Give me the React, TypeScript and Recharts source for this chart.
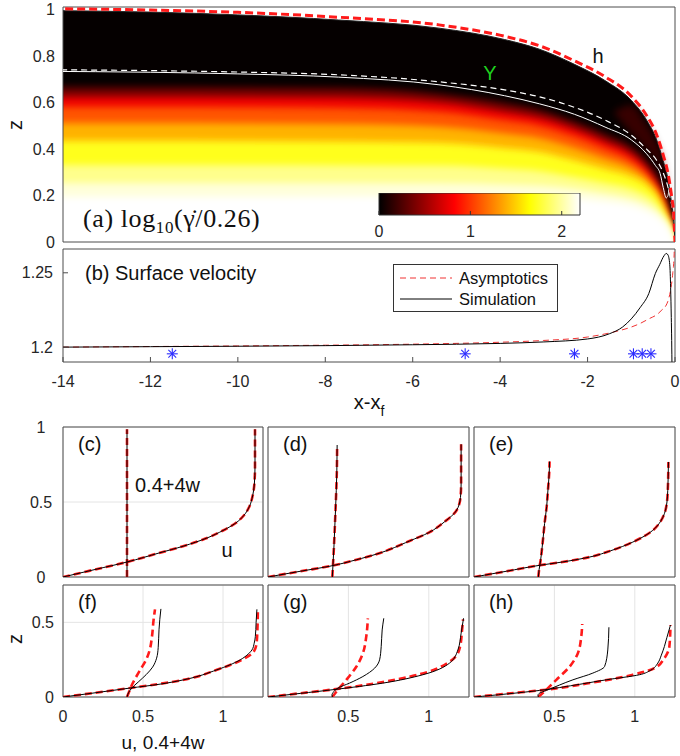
import React from 'react';
import {
  ComposedChart,
  ScatterChart,
  Scatter,
  Area,
  Line,
  XAxis,
  YAxis,
  CartesianGrid,
  ReferenceArea,
} from 'recharts';

const SANS = '"Liberation Sans", Arial, Helvetica, sans-serif';
const SERIF = '"Liberation Serif", "Times New Roman", serif';
const INK = '#262626';
const FRAME = '#4d4d4d';
const RED = '#ff1a1a';
const BLUE = '#2b2bff';

// ---------- (a) shear-rate map, sampled along x - x_f ----------
const MAP_X = [-14.5, -12, -10, -7.7, -5.4, -3.9, -3.1, -2.3, -1.6, -1.0, -0.65, -0.42, -0.27, -0.15, -0.08, -0.03, 0];
const SURFACE_SIM = [0.997, 0.99, 0.978, 0.956, 0.921, 0.872, 0.83, 0.765, 0.695, 0.61, 0.525, 0.44, 0.35, 0.26, 0.17, 0.09, 0];
const SURFACE_ASYM = [1.005, 0.999, 0.989, 0.968, 0.935, 0.886, 0.845, 0.78, 0.712, 0.628, 0.545, 0.462, 0.375, 0.285, 0.2, 0.12, 0];
const YIELD_ASYM = [0.742, 0.738, 0.732, 0.72, 0.69, 0.655, 0.625, 0.58, 0.525, 0.46, 0.4, 0.352, 0.298, 0.228, 0.163, 0.085, null];

// simulated yield surface, with the little kink near the tip
const YIELD_SIM_X = [-14.5, -12, -10, -7.7, -5.4, -3.9, -3.1, -2.3, -1.6, -1.0, -0.65, -0.45, -0.34, -0.27, -0.2, -0.16, -0.13, -0.1, -0.08, -0.06];
const YIELD_SIM_Z = [0.735, 0.731, 0.724, 0.71, 0.677, 0.63, 0.595, 0.55, 0.495, 0.44, 0.38, 0.33, 0.295, 0.235, 0.19, 0.2, 0.235, 0.23, 0.2, 0.165];

// iso-lines of log10(rate/0.26) on MAP_X (level in the name)
const ISO_000 = [0.667, 0.667, 0.666, 0.664, 0.64, 0.6, 0.57, 0.52, 0.465, 0.41, 0.35, 0.29, 0.225, 0.155, 0.095, 0.04, 0];
const ISO_060 = [0.627, 0.627, 0.626, 0.623, 0.604, 0.563, 0.537, 0.489, 0.434, 0.379, 0.317, 0.253, 0.192, 0.115, 0.066, 0.025, 0];
const ISO_095 = [0.582, 0.582, 0.581, 0.578, 0.562, 0.525, 0.502, 0.456, 0.404, 0.352, 0.295, 0.233, 0.173, 0.1, 0.058, 0.022, 0];
const ISO_125 = [0.512, 0.512, 0.511, 0.509, 0.497, 0.468, 0.448, 0.406, 0.361, 0.319, 0.271, 0.217, 0.16, 0.095, 0.055, 0.02, 0];
const ISO_155 = [0.436, 0.436, 0.435, 0.433, 0.427, 0.405, 0.389, 0.352, 0.315, 0.282, 0.247, 0.2, 0.145, 0.09, 0.05, 0.018, 0];
const ISO_185 = [0.332, 0.332, 0.332, 0.331, 0.329, 0.316, 0.306, 0.28, 0.255, 0.23, 0.2, 0.165, 0.122, 0.08, 0.046, 0.016, 0];
const ISO_205 = [0.254, 0.254, 0.254, 0.254, 0.254, 0.249, 0.244, 0.23, 0.21, 0.188, 0.163, 0.135, 0.102, 0.07, 0.04, 0.014, 0];
const ISO_220 = [0.195, 0.195, 0.195, 0.196, 0.197, 0.197, 0.196, 0.19, 0.176, 0.158, 0.135, 0.112, 0.088, 0.06, 0.034, 0.012, 0];
const ISO_LINES = [ISO_000, ISO_060, ISO_095, ISO_125, ISO_155, ISO_185, ISO_205, ISO_220];
// band colour just below each iso-line (matlab "hot" over 0..2.2)
const ISO_FILLS = ['#6e0000', '#f00000', '#ff5500', '#ffb200', '#ffff1a', '#ffff8c', '#ffffda', '#ffffff'];

// dark-red glow between the asymptotic yield line and the surface near the tip
const GLOW_X = [-1.4, -1.0, -0.7, -0.45, -0.28, -0.16, -0.1];
const GLOW_LOW = [0.56, 0.47, 0.41, 0.355, 0.3, 0.235, 0.19];
const GLOW_HIGH = [0.56, 0.59, 0.52, 0.44, 0.36, 0.26, 0.19];

const COLORBAR_RANGE = [0, 2.2];
const COLORBAR_TICKS = [0, 1, 2];

// ---------- (b) surface velocity ----------
const USURF_SIM_X = [-14, -12, -10, -8, -6, -4, -3, -2, -1.5, -1.2, -1.0, -0.8, -0.6, -0.45, -0.35, -0.25, -0.2, -0.16, -0.12, -0.1, -0.085, -0.076, -0.068];
const USURF_SIM = [1.2, 1.2003, 1.2006, 1.201, 1.2016, 1.2025, 1.2035, 1.2055, 1.209, 1.2135, 1.219, 1.2265, 1.236, 1.2495, 1.2555, 1.2615, 1.263, 1.262, 1.2555, 1.24, 1.22, 1.2045, 1.185];
const USURF_ASYM_X = [-14, -12, -10, -8, -6, -4, -3, -2, -1.4, -1.0, -0.8, -0.6, -0.4, -0.3, -0.2, -0.15, -0.1, -0.05, -0.02, 0];
const USURF_ASYM = [1.2, 1.2004, 1.2008, 1.2013, 1.202, 1.2033, 1.2045, 1.2068, 1.2102, 1.2135, 1.2159, 1.219, 1.2222, 1.225, 1.2283, 1.232, 1.2385, 1.25, 1.262, 1.32];
const PROFILE_X = [-11.5, -4.8, -2.3, -0.95, -0.75, -0.55];
const PROFILE_MARK = [1.1955, 1.1955, 1.1955, 1.1955, 1.1955, 1.1955];

// ---------- (c)-(h) velocity profiles: u(z) and 0.4+4w(z) ----------
const C_U = [0, 0.2, 0.4, 0.6, 0.75, 0.9, 1.0, 1.08, 1.13, 1.165, 1.185, 1.196, 1.2, 1.2];
const C_U_Z = [0, 0.05, 0.1, 0.16, 0.205, 0.26, 0.31, 0.36, 0.41, 0.47, 0.54, 0.62, 0.735, 0.985];
const C_W = [0.4, 0.4];
const C_W_Z = [0, 0.985];

const D_U = [0, 0.2, 0.394, 0.55, 0.673, 0.88, 1.0, 1.1, 1.17, 1.197, 1.201, 1.201];
const D_U_Z = [0, 0.038, 0.074, 0.115, 0.152, 0.24, 0.296, 0.37, 0.44, 0.53, 0.62, 0.885];
const D_W = [0.4, 0.41, 0.42, 0.428, 0.43];
const D_W_Z = [0, 0.2, 0.45, 0.7, 0.88];

const E_U = [0, 0.2, 0.408, 0.55, 0.719, 0.85, 0.988, 1.112, 1.16, 1.184, 1.2, 1.205, 1.209];
const E_U_Z = [0, 0.038, 0.078, 0.1, 0.133, 0.175, 0.233, 0.311, 0.37, 0.422, 0.5, 0.578, 0.767];
const E_W = [0.4, 0.405, 0.414, 0.427, 0.439, 0.452, 0.46, 0.468, 0.47];
const E_W_Z = [0, 0.05, 0.11, 0.23, 0.357, 0.47, 0.58, 0.7, 0.77];

const F_U_SIM = [0, 0.2, 0.42, 0.6, 0.754, 0.962, 1.108, 1.16, 1.181, 1.195, 1.202, 1.207, 1.212];
const F_U_SIM_Z = [0, 0.028, 0.06, 0.085, 0.115, 0.182, 0.249, 0.29, 0.315, 0.36, 0.404, 0.5, 0.587];
const F_U_ASYM = [0, 0.2, 0.42, 0.754, 0.962, 1.12, 1.19, 1.21, 1.215, 1.218];
const F_U_ASYM_Z = [0, 0.028, 0.06, 0.115, 0.182, 0.25, 0.3, 0.36, 0.45, 0.587];
const F_W_SIM = [0.4, 0.41, 0.43, 0.47, 0.52, 0.56, 0.585, 0.595, 0.6, 0.605, 0.612];
const F_W_SIM_Z = [0, 0.03, 0.06, 0.1, 0.15, 0.2, 0.26, 0.33, 0.45, 0.52, 0.59];
const F_W_ASYM = [0.4, 0.415, 0.431, 0.483, 0.52, 0.543, 0.556, 0.566, 0.575];
const F_W_ASYM_Z = [0, 0.04, 0.082, 0.182, 0.25, 0.32, 0.404, 0.515, 0.587];

const G_U_SIM = [0, 0.2, 0.404, 0.714, 0.963, 1.129, 1.181, 1.201, 1.216];
const G_U_SIM_Z = [0, 0.024, 0.049, 0.093, 0.149, 0.227, 0.315, 0.427, 0.527];
const G_U_ASYM = [0, 0.2, 0.4, 0.714, 1.0, 1.12, 1.17, 1.195, 1.207, 1.213];
const G_U_ASYM_Z = [0, 0.025, 0.05, 0.1, 0.17, 0.23, 0.275, 0.34, 0.45, 0.52];
const G_W_SIM = [0.4, 0.398, 0.405, 0.435, 0.507, 0.59, 0.663, 0.694, 0.704, 0.71, 0.72];
const G_W_SIM_Z = [0, 0.015, 0.03, 0.06, 0.093, 0.137, 0.193, 0.249, 0.337, 0.449, 0.527];
const G_W_ASYM = [0.4, 0.435, 0.487, 0.55, 0.59, 0.611, 0.621];
const G_W_ASYM_Z = [0, 0.049, 0.115, 0.204, 0.293, 0.404, 0.527];

const H_U_SIM = [0, 0.2, 0.408, 0.6, 0.822, 1.029, 1.1, 1.143, 1.165, 1.184, 1.2, 1.222];
const H_U_SIM_Z = [0, 0.02, 0.044, 0.075, 0.115, 0.149, 0.18, 0.227, 0.28, 0.338, 0.4, 0.482];
const H_U_ASYM = [0, 0.2, 0.45, 0.7, 0.988, 1.122, 1.184, 1.215, 1.222];
const H_U_ASYM_Z = [0, 0.022, 0.049, 0.09, 0.149, 0.193, 0.26, 0.338, 0.482];
const H_W_SIM = [0.4, 0.398, 0.408, 0.45, 0.615, 0.739, 0.812, 0.832, 0.839];
const H_W_SIM_Z = [0, 0.012, 0.026, 0.044, 0.115, 0.16, 0.204, 0.315, 0.467];
const H_W_ASYM = [0.4, 0.45, 0.512, 0.595, 0.646, 0.667, 0.673];
const H_W_ASYM_Z = [0, 0.049, 0.115, 0.204, 0.293, 0.404, 0.489];

// ---------- helpers ----------
const pairs = (xs: number[], ys: (number | null)[], xk: string, yk: string) =>
  xs.map((x, i) => ({ [xk]: x, [yk]: ys[i] }));

const mapRows = MAP_X.map((x, i) => {
  const row: Record<string, number | null> = {
    x,
    h: SURFACE_SIM[i],
    hA: SURFACE_ASYM[i],
    yA: YIELD_ASYM[i],
  };
  ISO_LINES.forEach((iso, k) => {
    row[`iso${k}`] = iso[i];
  });
  return row;
});

const glowRows = GLOW_X.map((x, i) => ({ x, glow: [GLOW_LOW[i], GLOW_HIGH[i]] }));

const tickFont = { fill: INK, fontSize: 16, fontFamily: SANS };

const Txt = ({ x, y, children, size = 20, color = '#111', font = SANS, center = false, rotate = 0 }: any) => (
  <div
    style={{
      position: 'absolute',
      left: x,
      top: y,
      transform: `translate(${center ? '-50%' : '0'}, -50%) rotate(${rotate}deg)`,
      fontFamily: font,
      fontSize: size,
      color,
      lineHeight: 1,
      whiteSpace: 'nowrap',
    }}
  >
    {children}
  </div>
);

const Asterisk = (p: any) => {
  const { cx, cy } = p;
  const r = 5.5;
  const d = 3.9;
  return (
    <g stroke={BLUE} strokeWidth={1.1}>
      <line x1={cx - r} y1={cy} x2={cx + r} y2={cy} />
      <line x1={cx} y1={cy - r} x2={cx} y2={cy + r} />
      <line x1={cx - d} y1={cy - d} x2={cx + d} y2={cy + d} />
      <line x1={cx - d} y1={cy + d} x2={cx + d} y2={cy - d} />
    </g>
  );
};

type Curve = { u: number[]; z: number[]; asym: boolean };
type Spec = {
  tag: string;
  left: number;
  top: number;
  width: number;
  height: number;
  zMax: number;
  zTicks: number[];
  yLabels: 'none' | 'center' | 'end';
  xLabels: 'none' | 'all' | 'skip0';
  curves: Curve[];
};

const PANELS: Spec[] = [
  {
    tag: '(c)', left: 63, top: 427, width: 200, height: 150, zMax: 1, zTicks: [0, 0.5, 1], yLabels: 'center', xLabels: 'none',
    curves: [
      { u: C_U, z: C_U_Z, asym: true }, { u: C_W, z: C_W_Z, asym: true },
      { u: C_U, z: C_U_Z, asym: false }, { u: C_W, z: C_W_Z, asym: false },
    ],
  },
  {
    tag: '(d)', left: 268, top: 427, width: 201, height: 150, zMax: 1, zTicks: [0, 0.5, 1], yLabels: 'none', xLabels: 'none',
    curves: [
      { u: D_U, z: D_U_Z, asym: true }, { u: D_W, z: D_W_Z, asym: true },
      { u: D_U, z: D_U_Z, asym: false }, { u: D_W, z: D_W_Z, asym: false },
    ],
  },
  {
    tag: '(e)', left: 474, top: 427, width: 201, height: 150, zMax: 1, zTicks: [0, 0.5, 1], yLabels: 'none', xLabels: 'none',
    curves: [
      { u: E_U, z: E_U_Z, asym: true }, { u: E_W, z: E_W_Z, asym: true },
      { u: E_U, z: E_U_Z, asym: false }, { u: E_W, z: E_W_Z, asym: false },
    ],
  },
  {
    tag: '(f)', left: 63, top: 585, width: 200, height: 112, zMax: 0.75, zTicks: [0, 0.5], yLabels: 'end', xLabels: 'all',
    curves: [
      { u: F_U_ASYM, z: F_U_ASYM_Z, asym: true }, { u: F_W_ASYM, z: F_W_ASYM_Z, asym: true },
      { u: F_U_SIM, z: F_U_SIM_Z, asym: false }, { u: F_W_SIM, z: F_W_SIM_Z, asym: false },
    ],
  },
  {
    tag: '(g)', left: 268, top: 585, width: 201, height: 112, zMax: 0.75, zTicks: [0, 0.5], yLabels: 'none', xLabels: 'skip0',
    curves: [
      { u: G_U_ASYM, z: G_U_ASYM_Z, asym: true }, { u: G_W_ASYM, z: G_W_ASYM_Z, asym: true },
      { u: G_U_SIM, z: G_U_SIM_Z, asym: false }, { u: G_W_SIM, z: G_W_SIM_Z, asym: false },
    ],
  },
  {
    tag: '(h)', left: 474, top: 585, width: 201, height: 112, zMax: 0.75, zTicks: [0, 0.5], yLabels: 'none', xLabels: 'skip0',
    curves: [
      { u: H_U_ASYM, z: H_U_ASYM_Z, asym: true }, { u: H_W_ASYM, z: H_W_ASYM_Z, asym: true },
      { u: H_U_SIM, z: H_U_SIM_Z, asym: false }, { u: H_W_SIM, z: H_W_SIM_Z, asym: false },
    ],
  },
];

const yTick = (anchor: 'middle' | 'end') => (p: any) => (
  <text x={p.x} y={p.y} dy="0.35em" textAnchor={anchor} fill={INK} fontSize={16} fontFamily={SANS}>
    {p.payload.value}
  </text>
);

const ProfilePanel = ({ spec }: { spec: Spec }) => (
  <div style={{ position: 'absolute', left: spec.left - 63, top: spec.top - 10 }}>
    <ScatterChart width={spec.width + 68} height={spec.height + 50} margin={{ top: 10, right: 5, bottom: 0, left: 0 }}>
      <CartesianGrid stroke="#e4e4e4" />
      <XAxis
        type="number"
        dataKey="u"
        domain={[0, 1.25]}
        ticks={[0, 0.5, 1]}
        interval={0}
        allowDataOverflow
        height={40}
        axisLine={false}
        tickLine={false}
        tickSize={0}
        tickMargin={14}
        tick={spec.xLabels === 'none' ? false : tickFont}
        tickFormatter={(v: number) => (spec.xLabels === 'skip0' && v === 0 ? '' : String(v))}
      />
      <YAxis
        type="number"
        dataKey="z"
        domain={[0, spec.zMax]}
        ticks={spec.zTicks}
        interval={0}
        allowDataOverflow
        width={63}
        axisLine={false}
        tickLine={false}
        tickSize={0}
        tickMargin={spec.yLabels === 'center' ? 22 : 9}
        tick={spec.yLabels === 'none' ? false : yTick(spec.yLabels === 'center' ? 'middle' : 'end')}
      />
      {spec.curves.map((c, i) => {
        const color = c.asym ? RED : '#000';
        return (
          <Scatter
            key={i}
            data={pairs(c.u, c.z, 'u', 'z')}
            fill={color}
            line={{
              stroke: color,
              strokeWidth: c.asym ? 2.6 : 1,
              strokeDasharray: c.asym ? '7 4' : undefined,
            }}
            lineJointType="monotoneY"
            shape={() => <g />}
            isAnimationActive={false}
          />
        );
      })}
      <ReferenceArea x1={0} x2={1.25} y1={0} y2={spec.zMax} fill="none" stroke={FRAME} strokeWidth={1} />
    </ScatterChart>
  </div>
);

export default function App() {
  return (
    <div style={{ position: 'absolute', left: 0, top: 0, width: 680, height: 756, background: '#fff', overflow: 'hidden' }}>
      <style>{'.heat path { filter: url(#heatBlur); }'}</style>
      <svg width={0} height={0} style={{ position: 'absolute' }}>
        <defs>
          <filter id="heatBlur" x="-5%" y="-20%" width="110%" height="140%">
            <feGaussianBlur stdDeviation={3.5} />
          </filter>
          <linearGradient id="hotGrad" x1="0" y1="0" x2="1" y2="0">
            <stop offset="0" stopColor="#000000" />
            <stop offset="0.375" stopColor="#ff0000" />
            <stop offset="0.75" stopColor="#ffff00" />
            <stop offset="1" stopColor="#ffffff" />
          </linearGradient>
        </defs>
      </svg>

      {/* (a) */}
      <div style={{ position: 'absolute', left: 0, top: 0 }}>
        <ComposedChart width={680} height={250} data={mapRows} margin={{ top: 7, right: 5, bottom: 8, left: 0 }}>
          <XAxis type="number" dataKey="x" domain={[-14, 0]} allowDataOverflow hide />
          <YAxis
            type="number"
            domain={[0, 1.012]}
            allowDataOverflow
            ticks={[0, 0.2, 0.4, 0.6, 0.8, 1]}
            interval={0}
            width={63}
            axisLine={false}
            tickLine={false}
            tickSize={0}
            tickMargin={8}
            tick={tickFont}
          />
          <Area dataKey="h" type="monotone" stroke="none" fill="#050000" fillOpacity={1} isAnimationActive={false} />
          <Area
            className="heat"
            data={glowRows}
            dataKey="glow"
            type="monotone"
            stroke="none"
            fill="#6a0800"
            fillOpacity={0.5}
            isAnimationActive={false}
          />
          {ISO_LINES.map((_, k) => (
            <Area
              key={k}
              className="heat"
              dataKey={`iso${k}`}
              type="monotone"
              stroke="none"
              fill={ISO_FILLS[k]}
              fillOpacity={1}
              baseValue={-0.1}
              isAnimationActive={false}
            />
          ))}
          <Line dataKey="yA" type="monotone" stroke="#ffffff" strokeWidth={1.2} strokeDasharray="6 4" dot={false} isAnimationActive={false} />
          <Line
            data={pairs(YIELD_SIM_X, YIELD_SIM_Z, 'x', 'ys')}
            dataKey="ys"
            type="monotone"
            stroke="#ffffff"
            strokeWidth={1}
            dot={false}
            isAnimationActive={false}
          />
          <Line dataKey="h" type="monotone" stroke="#222" strokeWidth={1} dot={false} isAnimationActive={false} />
          <Line dataKey="hA" type="monotone" stroke={RED} strokeWidth={3} strokeDasharray="8 4" dot={false} isAnimationActive={false} />
          <ReferenceArea x1={-14} x2={0} y1={0} y2={1.012} fill="none" stroke={FRAME} strokeWidth={1} />
        </ComposedChart>
      </div>

      {/* colour bar */}
      <div style={{ position: 'absolute', left: 367, top: 193 }}>
        <ComposedChart
          width={225}
          height={47}
          data={COLORBAR_RANGE.map((v) => ({ v, bar: 1 }))}
          margin={{ top: 0, right: 12, bottom: 0, left: 12 }}
        >
          <XAxis
            type="number"
            dataKey="v"
            domain={[0, 2.2]}
            ticks={COLORBAR_TICKS}
            interval={0}
            allowDataOverflow
            height={25}
            axisLine={false}
            tickSize={-4}
            tickMargin={15}
            tickLine={{ stroke: '#333' }}
            tick={tickFont}
          />
          <YAxis type="number" domain={[0, 1]} allowDataOverflow hide />
          <Area dataKey="bar" type="linear" stroke="none" fill="url(#hotGrad)" fillOpacity={1} baseValue={0} isAnimationActive={false} />
          <ReferenceArea x1={0} x2={2.2} y1={0} y2={1} fill="none" stroke="#333" strokeWidth={1} />
        </ComposedChart>
      </div>

      {/* (b) */}
      <div style={{ position: 'absolute', left: 0, top: 240 }}>
        <ComposedChart width={680} height={160} margin={{ top: 9, right: 5, bottom: 0, left: 0 }}>
          <XAxis
            type="number"
            dataKey="x"
            domain={[-14, 0]}
            ticks={[-14, -12, -10, -8, -6, -4, -2, 0]}
            interval={0}
            allowDataOverflow
            height={38}
            axisLine={false}
            tickSize={-5}
            tickMargin={19}
            tickLine={{ stroke: FRAME }}
            tick={tickFont}
          />
          <XAxis
            xAxisId="top"
            orientation="top"
            type="number"
            domain={[-14, 0]}
            ticks={[-14, -12, -10, -8, -6, -4, -2, 0]}
            interval={0}
            allowDataOverflow
            height={0}
            axisLine={false}
            tickSize={-5}
            tickLine={{ stroke: FRAME }}
            tick={false}
          />
          <YAxis
            type="number"
            domain={[1.19, 1.266]}
            ticks={[1.2, 1.25]}
            interval={0}
            allowDataOverflow
            width={63}
            axisLine={false}
            tickSize={-5}
            tickMargin={15}
            tickLine={{ stroke: FRAME }}
            tick={tickFont}
          />
          <YAxis
            yAxisId="right"
            orientation="right"
            type="number"
            domain={[1.19, 1.266]}
            ticks={[1.2, 1.25]}
            interval={0}
            allowDataOverflow
            width={0}
            axisLine={false}
            tickSize={-5}
            tickLine={{ stroke: FRAME }}
            tick={false}
          />
          <Line
            data={pairs(USURF_ASYM_X, USURF_ASYM, 'x', 'v')}
            dataKey="v"
            type="monotone"
            stroke="#f03232"
            strokeWidth={1}
            strokeDasharray="6 4"
            dot={false}
            isAnimationActive={false}
          />
          <Line
            data={pairs(USURF_SIM_X, USURF_SIM, 'x', 'v')}
            dataKey="v"
            type="monotone"
            stroke="#000"
            strokeWidth={1}
            dot={false}
            isAnimationActive={false}
          />
          <Scatter data={pairs(PROFILE_X, PROFILE_MARK, 'x', 'v')} dataKey="v" shape={Asterisk} isAnimationActive={false} />
          <ReferenceArea x1={-14} x2={0} y1={1.19} y2={1.266} fill="none" stroke={FRAME} strokeWidth={1} />
        </ComposedChart>
      </div>

      {/* legend of (b) */}
      <div
        style={{
          position: 'absolute',
          left: 393,
          top: 264,
          width: 163,
          height: 46,
          border: '1px solid #333',
          background: '#fff',
          fontFamily: SANS,
          fontSize: 16.5,
          color: '#111',
        }}
      >
        {[
          { label: 'Asymptotics', y: 12.5, dash: '6 4', color: '#f03232' },
          { label: 'Simulation', y: 33.5, dash: undefined, color: '#000' },
        ].map((r) => (
          <React.Fragment key={r.label}>
            <svg width={52} height={4} style={{ position: 'absolute', left: 6, top: r.y - 2 }}>
              <line x1={0} y1={2} x2={52} y2={2} stroke={r.color} strokeWidth={1} strokeDasharray={r.dash} />
            </svg>
            <div style={{ position: 'absolute', left: 65, top: r.y, transform: 'translateY(-50%)', lineHeight: 1 }}>{r.label}</div>
          </React.Fragment>
        ))}
      </div>

      {PANELS.map((p) => (
        <ProfilePanel key={p.tag} spec={p} />
      ))}

      {/* annotations */}
      <Txt x={15} y={125} center rotate={-90}>z</Txt>
      <Txt x={15} y={639} center rotate={-90}>z</Txt>
      <div
        style={{
          position: 'absolute',
          left: 83,
          top: 219,
          transform: 'translateY(-50%)',
          fontFamily: SERIF,
          fontSize: 26,
          letterSpacing: 0.6,
          lineHeight: 1,
          whiteSpace: 'nowrap',
          color: '#111',
        }}
      >
        (a) log<span style={{ fontSize: 17, position: 'relative', top: 6 }}>10</span>(γ̇/0.26)
      </div>
      <Txt x={490} y={73} center color="#1fd11f">Y</Txt>
      <Txt x={598} y={56} center>h</Txt>
      <Txt x={85} y={273}>(b) Surface velocity</Txt>
      <div style={{ position: 'absolute', left: 369, top: 402, transform: 'translate(-50%, -50%)', fontFamily: SANS, fontSize: 20, lineHeight: 1, color: '#111' }}>
        x-x<span style={{ fontSize: 14, position: 'relative', top: 7 }}>f</span>
      </div>
      {PANELS.map((p) => (
        <Txt key={p.tag} x={p.left + 15} y={p.top + 17}>{p.tag}</Txt>
      ))}
      <Txt x={135} y={485}>0.4+4w</Txt>
      <Txt x={227} y={550} center>u</Txt>
      <Txt x={163} y={742} center size={19}>u, 0.4+4w</Txt>
    </div>
  );
}
